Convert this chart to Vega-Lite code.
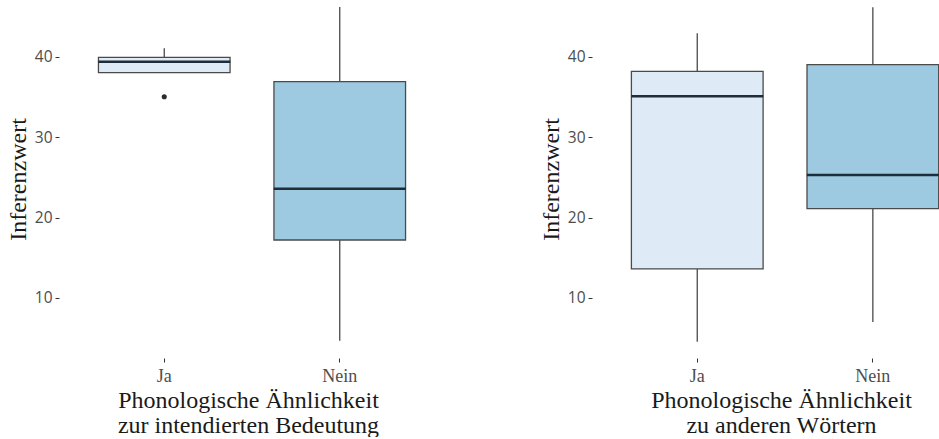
{
  "$schema": "https://vega.github.io/schema/vega-lite/v6.json",
  "padding": {"left": 6, "top": 0, "right": 0, "bottom": 0},
  "background": "white",
  "datasets": {
    "stats": [
      {"panel": "A", "group": "Ja", "lower": 38.04, "q1": 38.04, "median": 39.41, "q3": 39.96, "upper": 41.08},
      {"panel": "A", "group": "Nein", "lower": 4.66, "q1": 17.2, "median": 23.6, "q3": 36.92, "upper": 46.23},
      {"panel": "B", "group": "Ja", "lower": 4.53, "q1": 13.6, "median": 35.1, "q3": 38.2, "upper": 42.95},
      {"panel": "B", "group": "Nein", "lower": 7.0, "q1": 21.1, "median": 25.3, "q3": 39.04, "upper": 46.2}
    ],
    "outliers": [
      {"panel": "A", "group": "Ja", "value": 35.05}
    ]
  },
  "config": {
    "view": {"stroke": null},
    "axisY": {
      "grid": false, "domain": false, "tickSize": 4, "tickColor": "#333333", "tickWidth": 1,
      "labelFont": "Open Sans", "labelFontSize": 15.5, "labelColor": "#4d4d4d", "labelPadding": 3,
      "titleFont": "Liberation Serif", "titleFontSize": 24, "titleFontWeight": "normal", "titleColor": "#1a1a1a", "titlePadding": 4
    },
    "axisX": {
      "grid": false, "domain": false, "tickSize": 4, "tickColor": "#333333", "tickWidth": 1, "labelAngle": 0,
      "labelFont": "Liberation Serif", "labelFontSize": 18, "labelColor": "#4d4d4d", "labelPadding": 5,
      "titleFont": "Liberation Serif", "titleFontSize": 24, "titleFontWeight": "normal", "titleColor": "#1a1a1a",
      "titleLineHeight": 25, "titlePadding": 3
    }
  },
  "bounds": "flush",
  "spacing": 147,
  "hconcat": [
    {
      "width": 386,
      "height": 358,
      "layer": [
        {
          "data": {"name": "stats"},
          "transform": [{"filter": "datum.panel === 'A'"}],
          "mark": {"type": "rule", "color": "#4a4a4a", "strokeWidth": 1.3},
          "encoding": {
            "x": {"field": "group", "type": "nominal", "scale": {"paddingInner": 0.25, "paddingOuter": 0.2248}, "axis": {"title": ["Phonologische Ähnlichkeit", "zur intendierten Bedeutung"], "titleX": 189}},
            "y": {"field": "lower", "type": "quantitative", "scale": {"domain": [2.5, 47.1], "nice": false, "zero": false}, "axis": {"title": "Inferenzwert", "values": [10, 20, 30, 40]}},
            "y2": {"field": "upper"}
          }
        },
        {
          "data": {"name": "stats"},
          "transform": [{"filter": "datum.panel === 'A'"}],
          "mark": {"type": "bar", "stroke": "#4a4a4a", "strokeWidth": 1.3},
          "encoding": {
            "x": {"field": "group", "type": "nominal"},
            "y": {"field": "q1", "type": "quantitative"},
            "y2": {"field": "q3"},
            "fill": {"field": "group", "type": "nominal", "scale": {"domain": ["Ja", "Nein"], "range": ["#DEEBF7", "#9ECAE1"]}, "legend": null}
          }
        },
        {
          "data": {"name": "stats"},
          "transform": [{"filter": "datum.panel === 'A'"}],
          "mark": {"type": "tick", "color": "#1f2d38", "size": 132, "thickness": 2.5, "opacity": 1},
          "encoding": {
            "x": {"field": "group", "type": "nominal"},
            "y": {"field": "median", "type": "quantitative"}
          }
        },
        {
          "data": {"name": "outliers"},
          "transform": [{"filter": "datum.panel === 'A'"}],
          "mark": {"type": "point", "filled": true, "color": "#2b2b2b", "size": 26, "opacity": 1},
          "encoding": {
            "x": {"field": "group", "type": "nominal"},
            "y": {"field": "value", "type": "quantitative"}
          }
        }
      ]
    },
    {
      "width": 346.7,
      "height": 358,
      "layer": [
        {
          "data": {"name": "stats"},
          "transform": [{"filter": "datum.panel === 'B'"}],
          "mark": {"type": "rule", "color": "#4a4a4a", "strokeWidth": 1.3},
          "encoding": {
            "x": {"field": "group", "type": "nominal", "scale": {"paddingInner": 0.25, "paddingOuter": 0.1122, "align": 1}, "axis": {"title": ["Phonologische Ähnlichkeit", "zu anderen Wörtern"], "titleX": 189}},
            "y": {"field": "lower", "type": "quantitative", "scale": {"domain": [2.5, 47.1], "nice": false, "zero": false}, "axis": {"title": "Inferenzwert", "values": [10, 20, 30, 40]}},
            "y2": {"field": "upper"}
          }
        },
        {
          "data": {"name": "stats"},
          "transform": [{"filter": "datum.panel === 'B'"}],
          "mark": {"type": "bar", "stroke": "#4a4a4a", "strokeWidth": 1.3},
          "encoding": {
            "x": {"field": "group", "type": "nominal"},
            "y": {"field": "q1", "type": "quantitative"},
            "y2": {"field": "q3"},
            "fill": {"field": "group", "type": "nominal", "scale": {"domain": ["Ja", "Nein"], "range": ["#DEEBF7", "#9ECAE1"]}, "legend": null}
          }
        },
        {
          "data": {"name": "stats"},
          "transform": [{"filter": "datum.panel === 'B'"}],
          "mark": {"type": "tick", "color": "#1f2d38", "size": 132, "thickness": 2.5, "opacity": 1},
          "encoding": {
            "x": {"field": "group", "type": "nominal"},
            "y": {"field": "median", "type": "quantitative"}
          }
        }
      ]
    }
  ]
}
